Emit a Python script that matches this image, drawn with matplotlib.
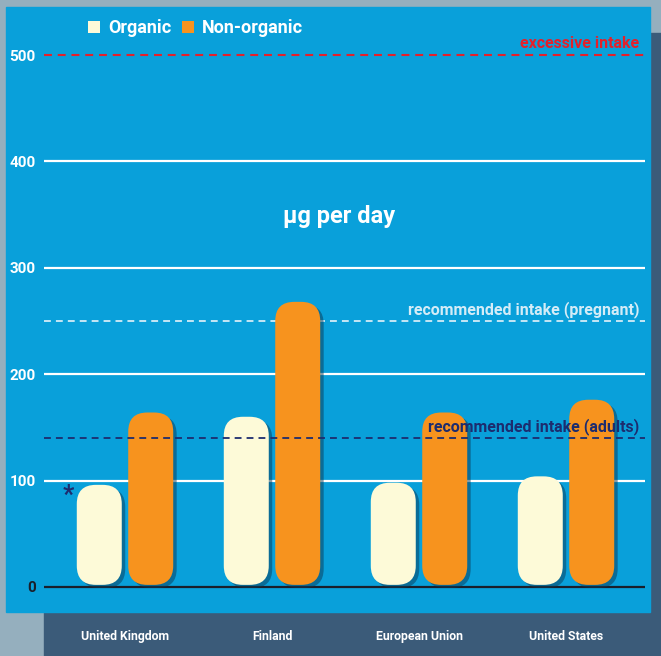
import matplotlib.pyplot as plt
import matplotlib.patheffects as pe
from matplotlib.patches import FancyBboxPatch, Rectangle, Patch
import numpy as np

# data
countries = ["United Kingdom", "Finland", "European Union", "United States"]
organic = [96, 160, 98, 104]
non_organic = [164, 268, 164, 176]
excessive_intake = 500
pregnant_intake = 250
adult_intake = 140
y_ticks = [0, 100, 200, 300, 400, 500]

# colours
outer_bg = "#95afbe"
slate = "#3b5b79"
panel_blue = "#09a0da"
cream = "#fdfad8"
orange = "#f7931e"
red = "#e5202a"
navy = "#1d2c6e"

plt.rcParams["font.family"] = ["Roboto", "DejaVu Sans"]
plt.rcParams["font.weight"] = "bold"

W, H = 661, 656
fig = plt.figure(figsize=(W / 100, H / 100), dpi=100)
fig.patch.set_facecolor(outer_bg)


def fig_rect(x0, y0, x1, y1, color, z):
    # pixel box (top-left origin) -> figure fraction
    fig.patches.append(
        Rectangle((x0 / W, 1 - y1 / H), (x1 - x0) / W, (y1 - y0) / H,
                  transform=fig.transFigure, color=color, zorder=z)
    )


fig_rect(44, 33, 661, 656, slate, 0)
fig_rect(6, 7, 650, 612, panel_blue, 1)

# axes placement: 0 at y=587px, 1.064 px per unit; group spacing 147px
px_per_unit = 1.064
y0_px = 587
ylo, yhi = -10, 520
x_center0, x_step = 125, 147
ax_left_px, ax_right_px = 44, 645
xlo = (ax_left_px - x_center0) / x_step
xhi = (ax_right_px - x_center0) / x_step
ax_bottom_px = y0_px - ylo * px_per_unit
ax_top_px = y0_px - yhi * px_per_unit
ax = fig.add_axes([ax_left_px / W, 1 - ax_bottom_px / H,
                   (ax_right_px - ax_left_px) / W, (ax_bottom_px - ax_top_px) / H])
ax.set_facecolor("none")
ax.set_zorder(2)
ax.set_xlim(xlo, xhi)
ax.set_ylim(ylo, yhi)
for s in ax.spines.values():
    s.set_visible(False)

# grid lines
for v in y_ticks[1:-1]:
    ax.axhline(v, color="white", linewidth=1.6, zorder=1)
ax.axhline(0, color="#1a1f2b", linewidth=1.6, zorder=1)

# reference lines
ax.axhline(excessive_intake, color=red, linewidth=1.5, dashes=(3.8, 2.8), zorder=1)
ax.axhline(pregnant_intake, color="#d4ecf7", linewidth=1.3, dashes=(3.8, 2.8), zorder=1)
ax.axhline(adult_intake, color=navy, linewidth=1.3, dashes=(3.8, 2.8), zorder=4)

# bars
x = np.arange(len(countries))
width = 0.306
offset = 0.175
base = 2
bars_org = ax.bar(x - offset, np.array(organic) - base, width, bottom=base, color=cream)
bars_non = ax.bar(x + offset, np.array(non_organic) - base, width, bottom=base, color=orange)

radius = 0.13
aspect = (radius * x_step / px_per_unit) / radius
shadow = [pe.SimplePatchShadow(offset=(2.5, -2.2), shadow_rgbFace="#0b3a55", alpha=0.5),
          pe.Normal()]
for bars in (bars_org, bars_non):
    for b in bars:
        b.set_visible(False)
        fb = FancyBboxPatch((b.get_x(), b.get_y()), b.get_width(), b.get_height(),
                            boxstyle=f"round,pad=0,rounding_size={radius}",
                            mutation_aspect=aspect, facecolor=b.get_facecolor(),
                            edgecolor="none", zorder=3, path_effects=shadow)
        ax.add_patch(fb)

# labels on reference lines
ax.text(3.50, excessive_intake + 4, "excessive intake", color=red, fontsize=11.5,
        ha="right", va="bottom", zorder=5)
ax.text(3.50, pregnant_intake + 3, "recommended intake (pregnant)", color="#d4ecf7",
        fontsize=11.5, ha="right", va="bottom", zorder=5)
ax.text(3.50, adult_intake + 3, "recommended intake (adults)", color=navy,
        fontsize=11.5, ha="right", va="bottom", zorder=5)

ax.text(1.456, 348, "µg per day", color="white", fontsize=17, ha="center",
        va="center", zorder=5)
ax.text(-0.385, 86, "*", color=navy, fontsize=18, ha="center", va="center", zorder=5)

# ticks
ax.set_yticks(y_ticks)
ax.set_yticklabels([str(v) for v in y_ticks])
ax.tick_params(axis="y", length=0, pad=6, labelsize=11, labelcolor="white")
ax.get_yticklabels()[0].set_color("#1a1f2b")
ax.set_xticks(x)
ax.set_xticklabels(countries)
ax.tick_params(axis="x", length=0, pad=23, labelsize=8.8, labelcolor="white")

# legend
handles = [Patch(facecolor=cream, label="Organic"),
           Patch(facecolor=orange, label="Non-organic")]
leg = fig.legend(handles=handles, loc="center left",
                 bbox_to_anchor=(88 / W, 1 - 28 / H), ncol=2, frameon=False,
                 handlelength=0.65, handleheight=0.65, handletextpad=0.45,
                 columnspacing=0.6, borderpad=0, borderaxespad=0, fontsize=13)
for t in leg.get_texts():
    t.set_color("white")

fig.savefig("out.png", dpi=100, facecolor=fig.get_facecolor())
